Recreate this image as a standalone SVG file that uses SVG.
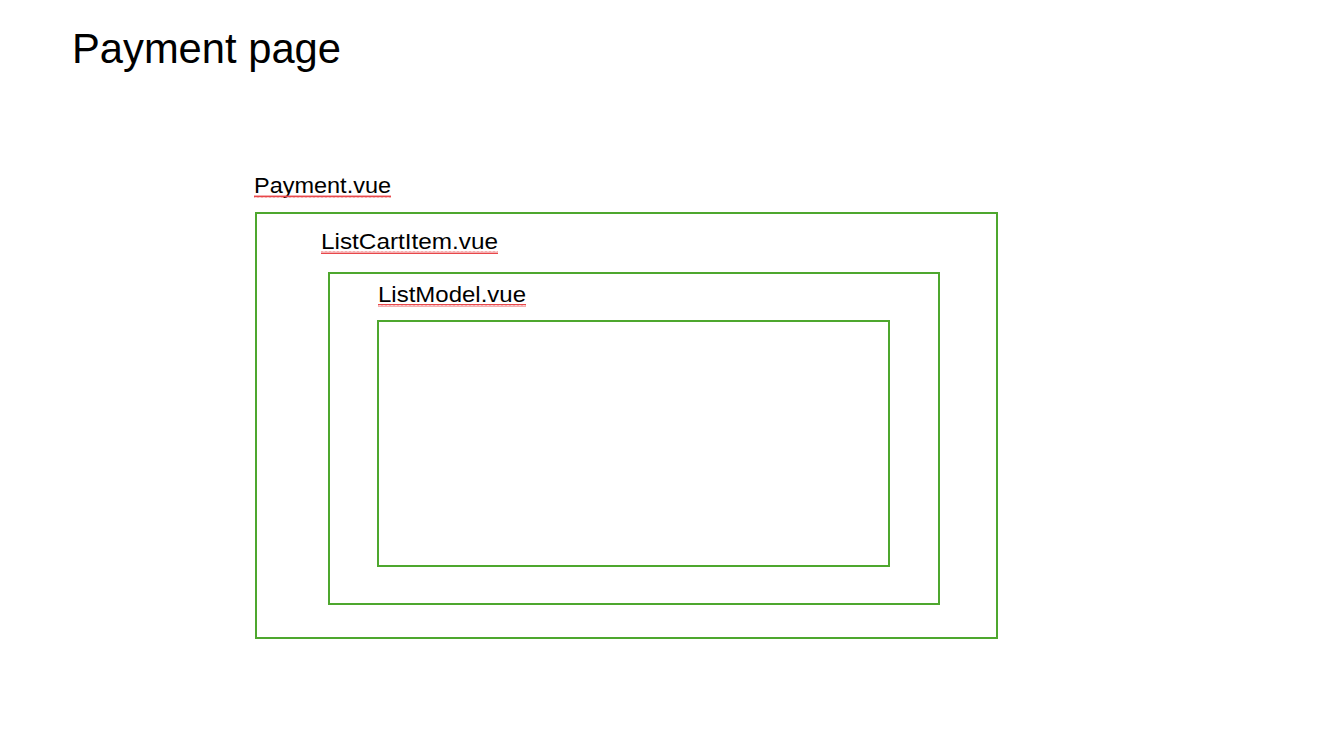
<svg xmlns="http://www.w3.org/2000/svg" width="1328" height="738" viewBox="0 0 1328 738">
<style>
.box{fill:none;stroke:#4EA72E;stroke-width:2}
.lbl{font-family:"Liberation Sans",Arial,sans-serif;font-size:22px;fill:#000}
.title{font-family:"Liberation Sans",Arial,sans-serif;font-size:42px;fill:#000}
.sq{fill:none;stroke:#E8474A;stroke-width:1}
</style>
<defs>
<pattern id="wave" width="4" height="3" patternUnits="userSpaceOnUse">
<path d="M0,2.5 L1,0.5 L2,2.5 L3,0.5 L4,2.5" class="sq"/>
</pattern>
</defs>
<rect width="1328" height="738" fill="#fff"/>
<text class="title" x="72" y="63" textLength="269" lengthAdjust="spacingAndGlyphs">Payment page</text>
<g id="payment">
<rect class="box" x="256" y="213" width="741" height="425"/>
<text class="lbl" x="254" y="193" textLength="137" lengthAdjust="spacingAndGlyphs">Payment.vue</text>
<rect x="254" y="195" width="137" height="3" fill="url(#wave)"/>
</g>
<g id="listcartitem">
<rect class="box" x="329" y="273" width="610" height="331"/>
<text class="lbl" x="321" y="249" textLength="177" lengthAdjust="spacingAndGlyphs">ListCartItem.vue</text>
<rect x="321" y="251" width="177" height="3" fill="url(#wave)"/>
</g>
<g id="listmodel">
<rect class="box" x="378" y="321" width="511" height="245"/>
<text class="lbl" x="378" y="302" textLength="148" lengthAdjust="spacingAndGlyphs">ListModel.vue</text>
<rect x="378" y="304" width="148" height="3" fill="url(#wave)"/>
</g>
<g id="connectors"/>
</svg>
